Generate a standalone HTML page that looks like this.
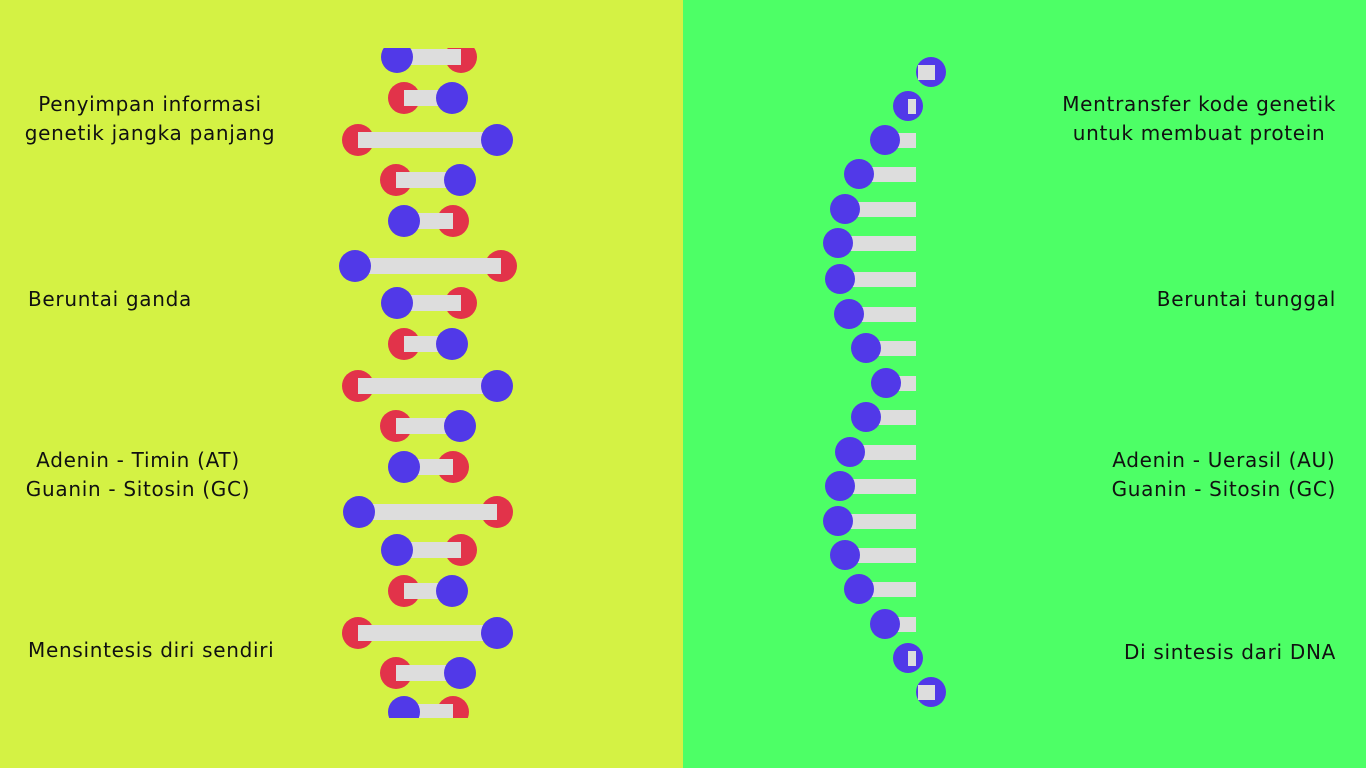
<!DOCTYPE html>
<html><head><meta charset="utf-8"><style>
body{margin:0;width:1366px;height:768px;overflow:hidden;font-family:"DejaVu Sans","Liberation Sans",sans-serif;}
#left{position:absolute;left:0;top:0;width:683px;height:768px;background:#d4f244;}
#right{position:absolute;left:683px;top:0;width:683px;height:768px;background:#4dff66;}
.t{position:absolute;font-size:20px;color:#111;line-height:29px;white-space:nowrap;letter-spacing:0.7px;}
.l{text-align:center;width:260px;}
.r{text-align:right;right:30px;}
svg{position:absolute;left:0;top:0;}
</style></head><body>
<div id="left"></div>
<div id="right"></div>
<svg id="art" width="1366" height="768">
<defs><clipPath id="dc"><rect x="300" y="48" width="260" height="670"/></clipPath></defs>
<g id="dna" clip-path="url(#dc)"></g>
<g id="rna"></g>
</svg>
<div class="t l" style="left:20px;top:90px">Penyimpan informasi<br>genetik jangka panjang</div>
<div class="t" style="left:28px;top:285px">Beruntai ganda</div>
<div class="t l" style="left:8px;top:446px">Adenin - Timin (AT)<br>Guanin - Sitosin (GC)</div>
<div class="t" style="left:28px;top:636px">Mensintesis diri sendiri</div>
<div class="t r" style="top:90px;text-align:center;right:30px">Mentransfer kode genetik<br>untuk membuat protein</div>
<div class="t r" style="top:285px">Beruntai tunggal</div>
<div class="t r" style="top:446px;text-align:center;right:30px">Adenin - Uerasil (AU)<br>Guanin - Sitosin (GC)</div>
<div class="t r" style="top:638px">Di sintesis dari DNA</div>
<script>
const NS="http://www.w3.org/2000/svg";
const B="#5139e8",R="#e2334a",G="#dddddd";
const dnaY=[57,98,140,180,221,266,303,344,386,426,467,512,550,591,633,673,712];
const dnaL=[397,404,358,396,404,355,397,404,358,396,404,359,397,404,358,396,404];
const dnaR=[461,452,497,460,453,501,461,452,497,460,453,497,461,452,497,460,453];
const dnaLeftBlue=[1,0,0,0,1,1,1,0,0,0,1,1,1,0,0,0,1];
const rnaY=[72,106,140,174,209,243,279,314,348,383,417,452,486,521,555,589,624,658,692];
const rnaX=[931,908,885,859,845,838,840,849,866,886,866,850,840,838,845,859,885,908,931];
function mk(tag,a,p){const e=document.createElementNS(NS,tag);for(const k in a)e.setAttribute(k,a[k]);p.appendChild(e);return e;}
const dna=document.getElementById('dna');
dnaY.forEach((y,i)=>{
  const lb=dnaLeftBlue[i];
  const bx=lb?dnaR[i]:dnaL[i], fx=lb?dnaL[i]:dnaR[i];
  const c1=mk('circle',{cx:bx,cy:y,r:16,fill:R},dna);
  
  
  const bar=mk('rect',{x:dnaL[i],y:y-8,width:dnaR[i]-dnaL[i],height:16,fill:G},dna);
  
  
  const c2=mk('circle',{cx:fx,cy:y,r:16,fill:B},dna);
  
  
});
const rna=document.getElementById('rna');
rnaY.forEach((y,i)=>{
  const x=rnaX[i];
  const front=x<900;
  if(!front){const c=mk('circle',{cx:x,cy:y,r:15,fill:B},rna);}
  const bar=mk('rect',{x:front?x:Math.min(x,918),y:y-7,width:front?916-x:Math.max(8,x-918+4),height:15,fill:G},rna);
  
  
  if(front){const c=mk('circle',{cx:x,cy:y,r:15,fill:B},rna);}
});
</script>
</body></html>
